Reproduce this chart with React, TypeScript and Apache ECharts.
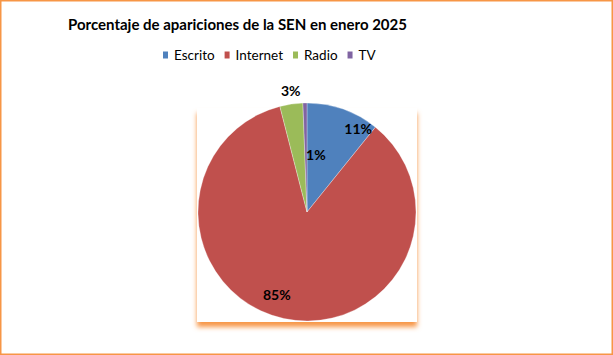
import React, { useEffect, useRef } from "react";
import * as echarts from "echarts";

const titleText = "Porcentaje de apariciones de la SEN en enero 2025";
const categories = ["Escrito", "Internet", "Radio", "TV"];
const values = [10.8, 85.2, 3.4, 0.6];
const colors = ["#4F81BD", "#C0504D", "#9BBB59", "#8064A2"];

// label shifts relative to the default inside position (layout only)
const labelShift = [
  [32, -29],
  [-18, 26],
  [-8, -65],
  [10, 0],
];

export default function App() {
  const ref = useRef<HTMLDivElement>(null);
  useEffect(() => {
    if (!ref.current) return;
    const chart = echarts.init(ref.current, null, { renderer: "svg" });
    chart.setOption({
      animation: false,
      backgroundColor: "#ffffff",
      title: {
        text: titleText,
        left: 63,
        top: 11,
        textStyle: {
          fontFamily: "Lato",
          fontWeight: "bold",
          fontSize: 15,
          color: "#000000",
        },
      },
      legend: {
        left: 156,
        top: 43,
        icon: "rect",
        itemWidth: 7,
        itemHeight: 9,
        itemGap: 8,
        data: categories,
        textStyle: { fontFamily: "Lato", fontSize: 13.5, color: "#000000" },
      },
      graphic: [
        {
          type: "rect",
          z: 0,
          shape: { x: 0.75, y: 0.75, width: 611.5, height: 353.5 },
          style: { fill: "none", stroke: "#F79646", lineWidth: 1.5 },
        },
        {
          type: "rect",
          z: 0,
          shape: { x: 197, y: 108, width: 220, height: 214 },
          style: {
            fill: "#ffffff",
            shadowColor: "rgba(247,150,70,1)",
            shadowBlur: 5,
            shadowOffsetY: 5,
          },
        },
      ],
      series: [
        {
          type: "pie",
          z: 5,
          center: [307, 212],
          radius: [0, 109],
          startAngle: 90,
          clockwise: true,
          avoidLabelOverlap: false,
          itemStyle: { borderColor: "#ffffff", borderWidth: 0.3 },
          label: {
            show: true,
            position: "inside",
            formatter: (p: any) => `${Math.round(p.value)}%`,
            fontFamily: "Lato",
            fontWeight: "bold",
            fontSize: 14,
            color: "#000000",
          },
          labelLine: { show: false },
          labelLayout: (p: any) => ({
            dx: labelShift[p.dataIndex][0],
            dy: labelShift[p.dataIndex][1],
          }),
          data: categories.map((c, i) => ({
            name: c,
            value: values[i],
            itemStyle: { color: colors[i] },
          })),
        },
      ],
    });
    return () => chart.dispose();
  }, []);
  return (
    <div
      ref={ref}
      style={{ position: "fixed", left: 0, top: 0, width: 613, height: 355 }}
    />
  );
}
